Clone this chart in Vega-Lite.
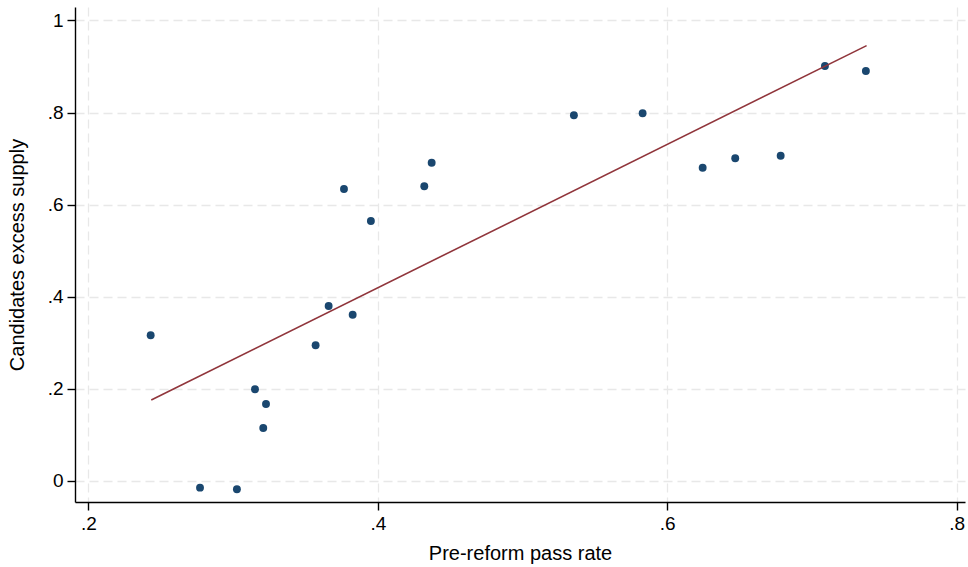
{
  "$schema": "https://vega.github.io/schema/vega-lite/v6.json",
  "autosize": "none",
  "width": 890,
  "height": 495,
  "padding": {"left": 75, "top": 7, "right": 3, "bottom": 65},
  "background": "white",
  "config": {
    "view": {"stroke": null},
    "font": "Liberation Sans",
    "axis": {
      "domainColor": "black",
      "domainWidth": 1.4,
      "tickColor": "black",
      "tickWidth": 1.4,
      "tickSize": 8,
      "labelFont": "Liberation Sans",
      "labelFontSize": 19,
      "labelColor": "black",
      "labelPadding": 4,
      "titleFont": "Liberation Sans",
      "titleFontSize": 20,
      "titleFontWeight": "normal",
      "titleColor": "black",
      "grid": true,
      "gridColor": "#e8e8e8",
      "gridDash": [9, 5],
      "gridWidth": 1.3
    }
  },
  "datasets": {
    "points": [
      {"pass": 0.2430, "excess": 0.316},
      {"pass": 0.2771, "excess": -0.0152},
      {"pass": 0.3026, "excess": -0.0187},
      {"pass": 0.3151, "excess": 0.1986},
      {"pass": 0.3208, "excess": 0.1145},
      {"pass": 0.3227, "excess": 0.1667},
      {"pass": 0.3570, "excess": 0.2942},
      {"pass": 0.3660, "excess": 0.3796},
      {"pass": 0.3766, "excess": 0.6339},
      {"pass": 0.3826, "excess": 0.3607},
      {"pass": 0.3952, "excess": 0.5643},
      {"pass": 0.4321, "excess": 0.6397},
      {"pass": 0.4372, "excess": 0.6910},
      {"pass": 0.5355, "excess": 0.7940},
      {"pass": 0.5830, "excess": 0.7983},
      {"pass": 0.6245, "excess": 0.6801},
      {"pass": 0.6470, "excess": 0.7006},
      {"pass": 0.6784, "excess": 0.7062},
      {"pass": 0.7090, "excess": 0.9011},
      {"pass": 0.7373, "excess": 0.8903}
    ],
    "fit": [
      {"pass": 0.2434, "excess": 0.1754},
      {"pass": 0.7378, "excess": 0.9453}
    ]
  },
  "encoding": {
    "x": {
      "field": "pass",
      "type": "quantitative",
      "scale": {"domain": [0.1907, 0.8058], "nice": false, "zero": false},
      "axis": {
        "title": "Pre-reform pass rate",
        "values": [0.2, 0.4, 0.6, 0.8],
        "labelExpr": "slice(format(datum.value, '.1f'), 1)",
        "titlePadding": 10
      }
    },
    "y": {
      "field": "excess",
      "type": "quantitative",
      "scale": {"domain": [-0.0463, 1.0293], "nice": false, "zero": false},
      "axis": {
        "title": "Candidates excess supply",
        "values": [0, 0.2, 0.4, 0.6, 0.8, 1],
        "labelExpr": "datum.value == 0 ? '0' : datum.value >= 0.99 ? '1' : slice(format(datum.value, '.1f'), 1)",
        "titlePadding": 20
      }
    }
  },
  "layer": [
    {
      "data": {"name": "points"},
      "mark": {"type": "circle", "size": 62, "color": "#1a476f", "opacity": 1}
    },
    {
      "data": {"name": "fit"},
      "mark": {"type": "line", "color": "#90353b", "strokeWidth": 1.6}
    }
  ]
}
